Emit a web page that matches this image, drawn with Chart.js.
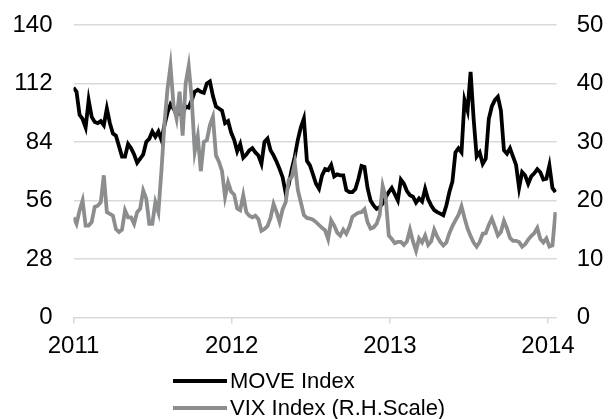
<!DOCTYPE html>
<html>
<head>
<meta charset="utf-8">
<script src="https://cdn.jsdelivr.net/npm/chart.js@4.4.1/dist/chart.umd.min.js"></script>
<style>
  html, body { margin: 0; padding: 0; background: #fff; }
  #wrap { position: relative; width: 616px; height: 419px; }
  #legend { position: absolute; left: 173px; top: 367px; font-family: "Liberation Sans", Arial, sans-serif; font-size: 22px; color: #000; }
  .item { display: flex; align-items: center; height: 27px; }
  .sw { width: 54px; height: 4px; margin-right: 3px; }
</style>
</head>
<body>
<div id="wrap">
  <canvas id="c" width="616" height="419"></canvas>
  <div id="legend"></div>
</div>
<script>
// Weekly observations, first week of Jan 2011 to mid-Jan 2014
const startYear = 2011;
const weekInYears = 7 / 365.25;
const yearTicks = [2011, 2012, 2013, 2014];
const leftTicks = [0, 28, 56, 84, 112, 140];
const rightTicks = [0, 10, 20, 30, 40, 50];
const seriesNames = ['MOVE Index', 'VIX Index (R.H.Scale)'];

const move2011 = [110,108,97,95,91,104,96,93.6,93,94,92,100,93,88,87,82,77,77,83,81,78,74,76,78,84,85.5,89,86.5,89,85,92,98,102,100,97,98,97,101,100.5,104,108,109,108,107.5,112,113,106,101,100,99,93,94,88.5];
const move2012 = [85,79.5,83,76.5,78,80,81,79,77.5,73.6,84,85.6,80,77.6,74.5,71,67,59.5,63.5,71,77,85,91,95.2,75,72.8,68.5,64,61.6,68,71,70.5,73,67.5,68.5,68,68,61,60,60,61.5,66.4,72.5,72,62,56,53.6,52,52.8,54.5,57.5,60];
const move2013 = [62,59,56,66,64,60.5,58.5,57.8,55,57,55.5,61.6,56.5,53.6,51.4,50.4,49.7,48.9,53.6,60,65,79,81,79,104,99,117.6,95,77,79,73.5,76,95,101,104,105.6,99,80,78.4,81,77,73,62,69.6,68,64,67.5,69,71,69.5,66,66.4,72.8,62,60];

const vix2011 = [17.1,16,18.3,20,15.7,15.7,16.3,18.9,19.1,19.7,24.3,18,17.7,17.4,15.1,14.6,15,18.3,17.1,17.1,16,18,18.6,21.7,20.3,16,16,19.7,18,25,33,39,43,36.3,34,38.6,31.1,40,43,37.4,28.3,31,25,30,30.3,32.9,34.3,27.7,26.6,25,20.6,23.1,21.5];
const vix2012 = [21,18.6,18.3,20.9,18,17.4,17.1,17.4,16.8,14.8,15.1,15.6,17,19.4,18,16.3,18.5,19.7,23.5,24,26.4,21.8,19.7,17.5,17,16.9,16.7,16.3,15.8,15.3,14.9,13.4,16.6,15.7,14.5,14,15,14.3,15.5,17.2,17.6,17.9,18,18.5,16.3,15.2,15.4,16,17.5,22.5,20.5,14];
const vix2013 = [13.4,12.7,12.9,12.9,12.4,13,15,13,11.4,13.5,12.8,14,12.4,13,15,13.8,12.9,12.3,12.8,14.4,15.6,16.6,17.5,19,17,15.2,13.9,12.8,12.1,12.9,14.3,14.4,15.8,16.9,15.5,14,14.6,16.5,15.2,13.6,13.1,13.1,12.9,12.1,12.5,13.3,13.9,14.4,15.3,13.4,12.8,13.5,12.1,12.3,18];

const moveValues = move2011.concat(move2012, move2013);
const vixValues = vix2011.concat(vix2012, vix2013);
const weekDates = moveValues.map((_, i) => startYear + i * weekInYears);

const toPoints = vals => vals.map((v, i) => ({ x: weekDates[i], y: v }));

const FONT = "'Liberation Sans', Arial, sans-serif";
const GRID = '#d9d9d9';
const colors = ['#000000', '#8b8d8e'];

const fitY = w => s => { s.width = w; s.paddingTop = 0; s.paddingBottom = 0; };

new Chart(document.getElementById('c'), {
  type: 'line',
  data: {
    datasets: [
      { label: seriesNames[0], data: toPoints(moveValues), yAxisID: 'yL', borderColor: colors[0], backgroundColor: colors[0], borderWidth: 3.8, pointRadius: 0, tension: 0, order: 1 },
      { label: seriesNames[1], data: toPoints(vixValues), yAxisID: 'yR', borderColor: colors[1], backgroundColor: colors[1], borderWidth: 3.8, pointRadius: 0, tension: 0, order: 0 }
    ]
  },
  options: {
    responsive: false,
    animation: false,
    events: [],
    layout: { padding: { top: 25, bottom: 0, left: 0, right: 0 } },
    plugins: { legend: { display: false }, tooltip: { enabled: false } },
    scales: {
      x: {
        type: 'linear',
        min: 2011,
        max: 2014.055,
        afterBuildTicks: s => { s.ticks = yearTicks.map(v => ({ value: v })); },
        ticks: { callback: v => String(v), color: '#000', font: { family: FONT, size: 24 }, padding: 9, maxRotation: 0, autoSkip: false },
        grid: { drawOnChartArea: false, drawTicks: true, tickLength: 6, color: GRID, lineWidth: 1.5 },
        border: { display: false },
        afterFit: s => { s.height = 101.6; s.paddingLeft = 0; s.paddingRight = 0; }
      },
      yL: {
        position: 'left',
        min: 0, max: 140,
        afterBuildTicks: s => { s.ticks = leftTicks.map(v => ({ value: v })); },
        ticks: { color: '#000', font: { family: FONT, size: 24 }, padding: 21 },
        grid: { color: GRID, lineWidth: 1.5, drawTicks: false },
        border: { display: false },
        afterFit: fitY(73.5)
      },
      yR: {
        position: 'right',
        min: 0, max: 50,
        afterBuildTicks: s => { s.ticks = rightTicks.map(v => ({ value: v })); },
        ticks: { color: '#000', font: { family: FONT, size: 24 }, padding: 20 },
        grid: { drawOnChartArea: false, drawTicks: false },
        border: { display: false },
        afterFit: fitY(59.3)
      }
    }
  }
});

const legend = document.getElementById('legend');
seriesNames.forEach((name, i) => {
  const row = document.createElement('div');
  row.className = 'item';
  const sw = document.createElement('span');
  sw.className = 'sw';
  sw.style.background = colors[i];
  const t = document.createElement('span');
  t.textContent = name;
  row.appendChild(sw); row.appendChild(t);
  legend.appendChild(row);
});
</script>
</body>
</html>
